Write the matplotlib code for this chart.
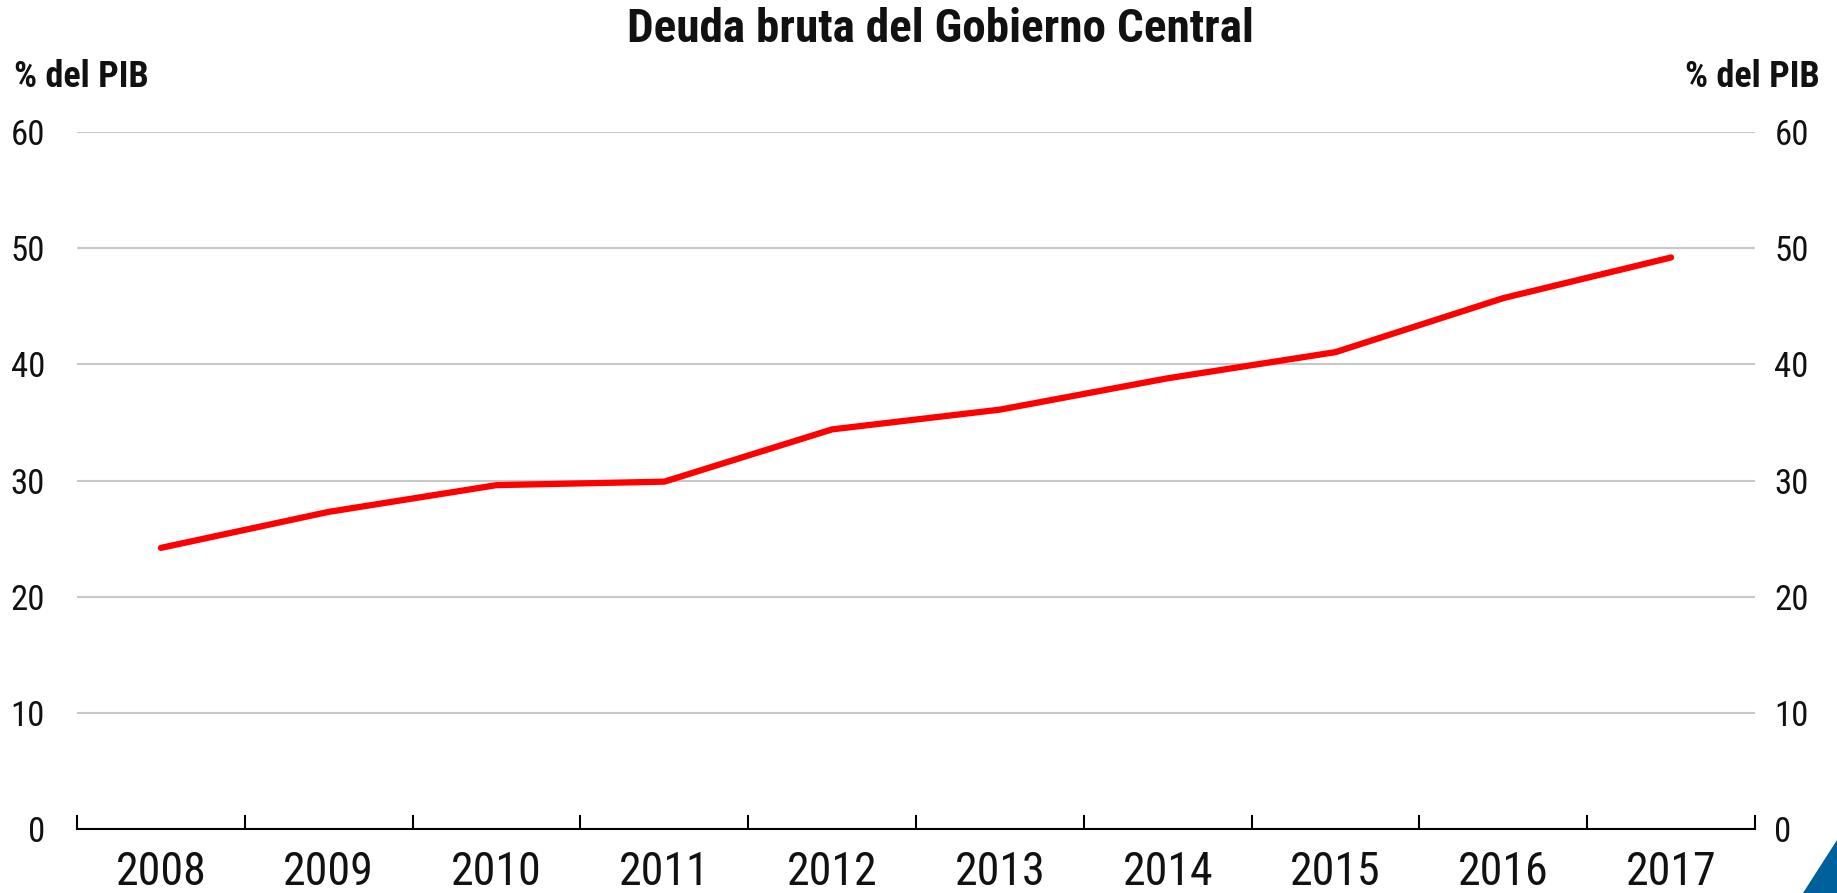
import matplotlib
matplotlib.use("Agg")
import matplotlib.pyplot as plt
from matplotlib import font_manager
from matplotlib.patches import Polygon

names = {f.name for f in font_manager.fontManager.ttflist}
FONT = "Liberation Sans"
for cand in ["Liberation Sans Narrow", "Roboto Condensed", "Archivo Narrow",
             "PT Sans Narrow", "IBM Plex Sans Condensed"]:
    if cand in names:
        FONT = cand
        break
plt.rcParams['font.family'] = [FONT, 'DejaVu Sans']

years = ["2008", "2009", "2010", "2011", "2012", "2013", "2014", "2015", "2016", "2017"]
deuda = [24.2, 27.3, 29.6, 29.9, 34.4, 36.1, 38.8, 41.05, 45.7, 49.2]
yticks = [0, 10, 20, 30, 40, 50, 60]

W, H = 1837, 893
fig = plt.figure(figsize=(W / 100, H / 100), dpi=100)
ax = fig.add_axes([77 / W, 1 - 829 / H, (1755 - 77) / W, (829 - 132) / H])

x = list(range(len(years)))
ax.set_xlim(-0.5, len(years) - 0.5)
ax.set_ylim(0, 60)

for v in yticks[1:]:
    ax.axhline(v, color="#c8c8c8", lw=1.5, zorder=1)

ax.plot(x, deuda, color="#ff0000", lw=4.5, solid_capstyle="round", solid_joinstyle="round", zorder=3)

for s in ["top", "left", "right"]:
    ax.spines[s].set_visible(False)
ax.spines["bottom"].set_color("black")
ax.spines["bottom"].set_linewidth(1.5)

ax.set_xticks(x)
ax.set_xticklabels(years, fontsize=33, color="#111111")
ax.set_xticks([i - 0.5 for i in range(len(years) + 1)], minor=True)
ax.tick_params(axis="x", which="major", length=0, pad=15)
ax.tick_params(axis="x", which="minor", direction="in", length=10, width=1.5, color="black")

ax.set_yticks(yticks)
ax.set_yticklabels([str(v) for v in yticks], fontsize=25, color="#111111")
ax.tick_params(axis="y", which="both", length=0, pad=23, labelleft=True, labelright=False)

ax2 = ax.twinx()
ax2.set_ylim(0, 60)
ax2.set_yticks(yticks)
ax2.set_yticklabels([str(v) for v in yticks], fontsize=25, color="#111111")
ax2.tick_params(axis="y", length=0, pad=14)
for s in ["top", "left", "right", "bottom"]:
    ax2.spines[s].set_visible(False)

fig.text(940 / W, 1 - 29 / H, "Deuda bruta del Gobierno Central", ha="center", va="center",
         fontsize=34, fontweight="bold", color="#111111")
fig.text(14 / W, 1 - 77 / H, "% del PIB", ha="left", va="center",
         fontsize=26, fontweight="bold", color="#111111")
fig.text(1820 / W, 1 - 77 / H, "% del PIB", ha="right", va="center",
         fontsize=26, fontweight="bold", color="#111111")

tri = Polygon([[1803 / W, 0], [W / W, 0], [W / W, 1 - 840 / H]], closed=True,
              transform=fig.transFigure, facecolor="#00609c", edgecolor="none")
fig.patches.append(tri)

fig.savefig("out.png", dpi=100, facecolor="white")
